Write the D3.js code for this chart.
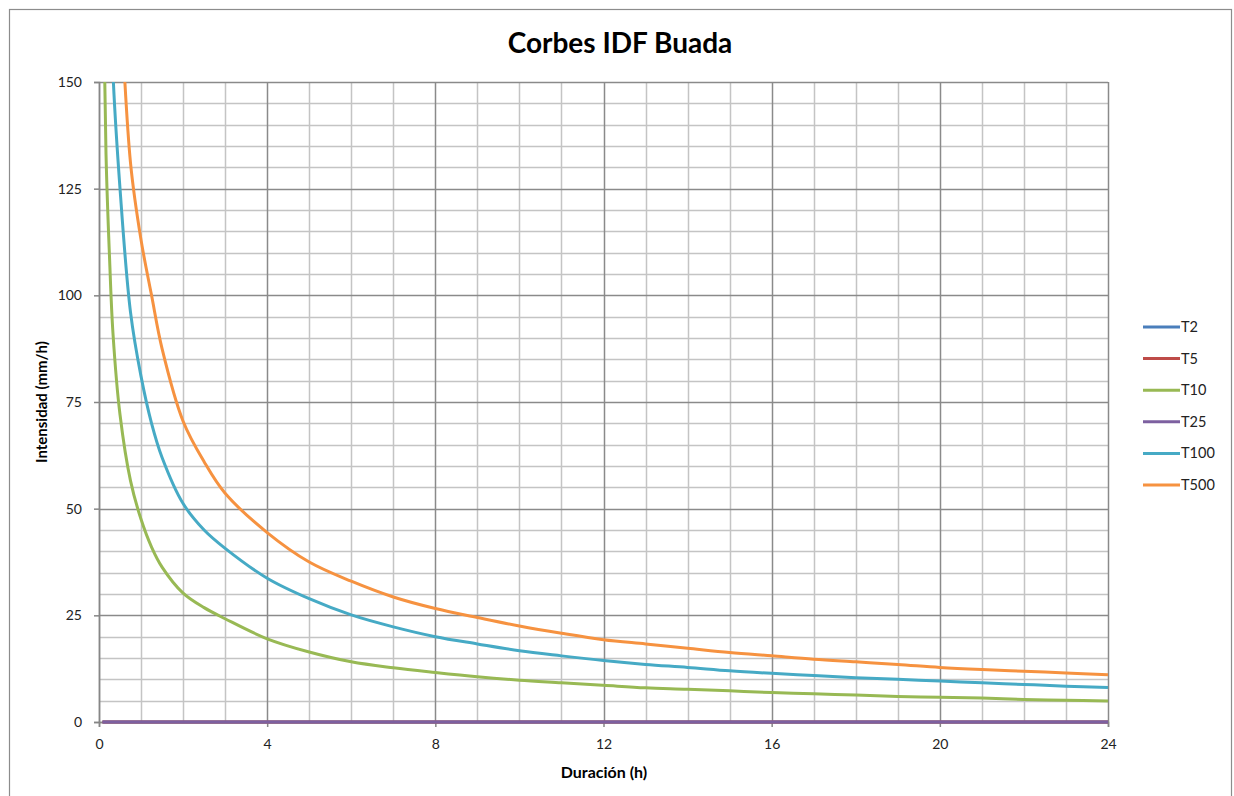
<!DOCTYPE html>
<html>
<head>
<meta charset="utf-8">
<script src="https://cdn.jsdelivr.net/npm/d3@7"></script>
<style>
  html, body { margin: 0; padding: 0; background: #fff; }
  svg { display: block; }
  text { font-family: Lato, "Open Sans", sans-serif; }
</style>
</head>
<body>
<svg id="chart" width="1234" height="796"></svg>
<script>
// ---- data ----
const durations = [0.083, 0.167, 0.25, 0.333, 0.5, 0.75, 1, 1.25, 1.5, 2, 2.5, 3, 4, 5, 6, 7, 8, 9, 10, 11, 12, 13, 14, 15, 16, 17, 18, 19, 20, 21, 22, 23, 24];
const T2   = durations.map(() => 0);
const T5   = durations.map(() => 0);
const T10  = [190, 133, 109, 91, 72, 56.5, 47.5, 41, 36.3, 30.2, 26.8, 24.2, 19.5, 16.4, 14.1, 12.7, 11.6, 10.6, 9.8, 9.2, 8.6, 8.0, 7.7, 7.3, 6.9, 6.6, 6.3, 6.0, 5.8, 5.6, 5.3, 5.1, 4.9];
const T25  = durations.map(() => 0);
const T100 = [300, 230, 185, 152, 125, 96, 81, 70, 62, 51.2, 45, 40.7, 33.7, 28.9, 25.1, 22.3, 20.0, 18.3, 16.7, 15.5, 14.4, 13.5, 12.8, 12.0, 11.4, 10.9, 10.4, 10.0, 9.6, 9.2, 8.8, 8.4, 8.1];
const T500 = [415, 317, 255, 210, 172, 131, 113, 100, 87.5, 70.5, 61, 53.6, 44.4, 37.5, 33.0, 29.3, 26.6, 24.5, 22.5, 20.8, 19.3, 18.3, 17.3, 16.3, 15.5, 14.7, 14.1, 13.5, 12.8, 12.3, 11.9, 11.5, 11.1];
const seriesNames = ["T2", "T5", "T10", "T25", "T100", "T500"];
const seriesValues = [T2, T5, T10, T25, T100, T500];
const seriesColors = ["#4A7EBB", "#BE4B48", "#98B954", "#7D60A0", "#46AAC5", "#F69240"];
const xTicks = [0, 4, 8, 12, 16, 20, 24];
const yTicks = [0, 25, 50, 75, 100, 125, 150];
const title = "Corbes IDF Buada";
const xTitle = "Duración (h)";
const yTitle = "Intensidad (mm/h)";

// ---- layout ----
const svg = d3.select("#chart");
const L = 99, R = 1108, T = 82, B = 722;
const x = d3.scaleLinear().domain([0, 24]).range([L, R]);
const y = d3.scaleLinear().domain([0, 150]).range([B, T]);

// outer chart border
svg.append("rect").attr("x", 9.5).attr("y", 9.5).attr("width", 1222).attr("height", 800)
  .attr("fill", "#fff").attr("stroke", "#8c8c8c").attr("stroke-width", 1.2);

// minor grid
const minorX = d3.range(0, 25, 1).filter(v => v % 4 !== 0);
const minorY = d3.range(0, 151, 5).filter(v => v % 25 !== 0);
const grid = svg.append("g");
grid.selectAll(".mx").data(minorX).join("line")
  .attr("x1", d => Math.round(x(d)) + 0.5).attr("x2", d => Math.round(x(d)) + 0.5)
  .attr("y1", T).attr("y2", B).attr("stroke", "#c4c4c4").attr("stroke-width", 1.5);
grid.selectAll(".my").data(minorY).join("line")
  .attr("y1", d => Math.round(y(d)) + 0.5).attr("y2", d => Math.round(y(d)) + 0.5)
  .attr("x1", L).attr("x2", R).attr("stroke", "#c4c4c4").attr("stroke-width", 1.5);
// major grid
grid.selectAll(".Mx").data(xTicks).join("line")
  .attr("x1", d => Math.round(x(d)) + 0.5).attr("x2", d => Math.round(x(d)) + 0.5)
  .attr("y1", T).attr("y2", B).attr("stroke", "#8a8a8a").attr("stroke-width", 1.5);
grid.selectAll(".My").data(yTicks).join("line")
  .attr("y1", d => Math.round(y(d)) + 0.5).attr("y2", d => Math.round(y(d)) + 0.5)
  .attr("x1", L).attr("x2", R).attr("stroke", "#8a8a8a").attr("stroke-width", 1.5);

// axes
const xAxis = svg.append("g").attr("transform", `translate(0,${B})`)
  .call(d3.axisBottom(x).tickValues(xTicks).tickSize(5).tickPadding(12).tickFormat(d3.format("d")));
const yAxis = svg.append("g").attr("transform", `translate(${L},0)`)
  .call(d3.axisLeft(y).tickValues(yTicks).tickSize(5).tickPadding(12).tickFormat(d3.format("d")));
[xAxis, yAxis].forEach(a => {
  a.select(".domain").attr("stroke", "#868686").attr("stroke-width", 1.5);
  a.selectAll(".tick line").attr("stroke", "#868686").attr("stroke-width", 1.5);
  a.selectAll(".tick text").attr("fill", "#222").style("font-size", "14px").style("font-family", "Lato, sans-serif");
});

// clip for series
svg.append("clipPath").attr("id", "plotclip").append("rect")
  .attr("x", L - 2).attr("y", T).attr("width", R - L + 4).attr("height", B - T + 2);

const line = d3.line().curve(d3.curveCatmullRom.alpha(0.5))
  .x((d, i) => x(durations[i])).y(d => y(d));
const lines = svg.append("g").attr("clip-path", "url(#plotclip)");
seriesValues.forEach((vals, k) => {
  lines.append("path").datum(vals)
    .attr("fill", "none").attr("stroke", seriesColors[k]).attr("stroke-width", 3)
    .attr("stroke-linejoin", "round").attr("d", line);
});

// title
svg.append("text").attr("x", 620).attr("y", 53).attr("text-anchor", "middle")
  .style("font-size", "28px").style("font-weight", "bold").attr("fill", "#000").text(title);
// axis titles
svg.append("text").attr("x", 604).attr("y", 778).attr("text-anchor", "middle")
  .style("font-size", "16px").style("font-weight", "bold").attr("fill", "#000").text(xTitle);
svg.append("text").attr("transform", "translate(47,402) rotate(-90)").attr("text-anchor", "middle")
  .style("font-size", "15px").style("font-weight", "bold").attr("fill", "#000").text(yTitle);

// legend
const lg = svg.append("g");
const ly = d3.scalePoint().domain(seriesNames).range([327, 485]);
seriesNames.forEach((n, k) => {
  lg.append("line").attr("x1", 1143).attr("x2", 1180).attr("y1", ly(n)).attr("y2", ly(n))
    .attr("stroke", seriesColors[k]).attr("stroke-width", 3);
  lg.append("text").attr("x", 1181).attr("y", ly(n) + 5).style("font-size", "14.5px")
    .attr("fill", "#222").text(n);
});
</script>
</body>
</html>
